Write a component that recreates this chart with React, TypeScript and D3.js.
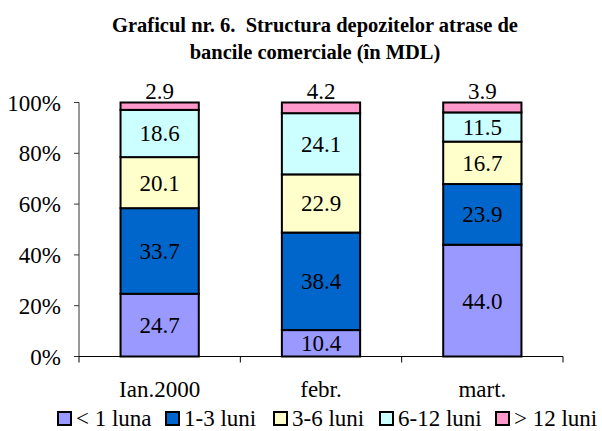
import React from "react";
import * as d3 from "d3";

const categories = ["Ian.2000", "febr.", "mart."];
const seriesNames = ["< 1 luna", "1-3 luni", "3-6 luni", "6-12 luni", "> 12 luni"];
const lt1 = [24.7, 10.4, 44.0];
const m1to3 = [33.7, 38.4, 23.9];
const m3to6 = [20.1, 22.9, 16.7];
const m6to12 = [18.6, 24.1, 11.5];
const gt12 = [2.9, 4.2, 3.9];
const yTicks = [0, 20, 40, 60, 80, 100];
const colors = ["#9999FF", "#0066CC", "#FFFFCC", "#CCFFFF", "#FF99CC"];

const W = 602, H = 431;
const left = 79, right = 563, top = 102.5, bottom = 356.5;
const font = "'Liberation Serif', 'Times New Roman', serif";

export default function App() {
  const series = [lt1, m1to3, m3to6, m6to12, gt12];
  const rows = categories.map((c, i) => {
    const r: any = { cat: c };
    seriesNames.forEach((s, k) => (r[s] = series[k][i]));
    return r;
  });
  const stacked = d3.stack<any>().keys(seriesNames)(rows);
  const x = d3.scaleBand().domain(categories).range([left, right]).paddingInner(0.515).paddingOuter(0.2575);
  const xb = d3.scaleBand().domain(categories).range([left, right]);
  const y = d3.scaleLinear().domain([0, 100]).range([bottom, top]);
  const fs = 23;

  return (
    <svg width={W} height={H} style={{ position: "absolute", left: 0, top: 0, background: "#fff" }} fontFamily={font}>
      <text x={315} y={32} textAnchor="middle" fontWeight="bold" fontSize={20.5} style={{ whiteSpace: "pre" }}>Graficul nr. 6.  Structura depozitelor atrase de</text>
      <text x={315} y={59} textAnchor="middle" fontWeight="bold" fontSize={20.5}>bancile comerciale (în MDL)</text>
      {/* y axis */}
      <line x1={left} x2={left} y1={top} y2={bottom} stroke="#333" strokeWidth={1} />
      {yTicks.map((t) => (
        <g key={t}>
          <line x1={left - 5} x2={left} y1={y(t)} y2={y(t)} stroke="#333" />
          <text x={61} y={y(t) + 8} textAnchor="end" fontSize={fs}>{t}%</text>
        </g>
      ))}
      {/* bars */}
      {stacked.map((s, k) => (
        <g key={s.key}>
          {s.map((d, i) => {
            const x0 = x(categories[i])!;
            const y0 = y(d[1]);
            const h = y(d[0]) - y(d[1]);
            const v = series[k][i];
            const isTop = k === seriesNames.length - 1;
            return (
              <g key={i}>
                <rect x={x0} y={y0} width={x.bandwidth()} height={h} fill={colors[k]} stroke="#000" strokeWidth={2} />
                <text
                  x={x0 + x.bandwidth() / 2}
                  y={isTop ? y0 - 4 : (y0 + y(d[0])) / 2 + 8}
                  textAnchor="middle"
                  fontSize={fs}
                >
                  {v.toFixed(1)}
                </text>
              </g>
            );
          })}
        </g>
      ))}
      {/* x axis */}
      <line x1={left} x2={right} y1={bottom} y2={bottom} stroke="#000" strokeWidth={1} />
      {[...categories.map((c) => xb(c)!), right].map((p, i) => (
        <line key={i} x1={p} x2={p} y1={bottom} y2={bottom + 6} stroke="#000" />
      ))}
      {categories.map((c) => (
        <text key={c} x={xb(c)! + xb.bandwidth() / 2} y={397} textAnchor="middle" fontSize={fs}>{c}</text>
      ))}
      {/* legend */}
      {seriesNames.map((s, k) => {
        const bx = [57, 165, 273, 379, 495][k];
        return (
          <g key={s}>
            <rect x={bx + 1} y={412} width={13} height={13} fill={colors[k]} stroke="#000" strokeWidth={2} />
            <text x={bx + 19} y={426} fontSize={fs}>{s}</text>
          </g>
        );
      })}
    </svg>
  );
}
